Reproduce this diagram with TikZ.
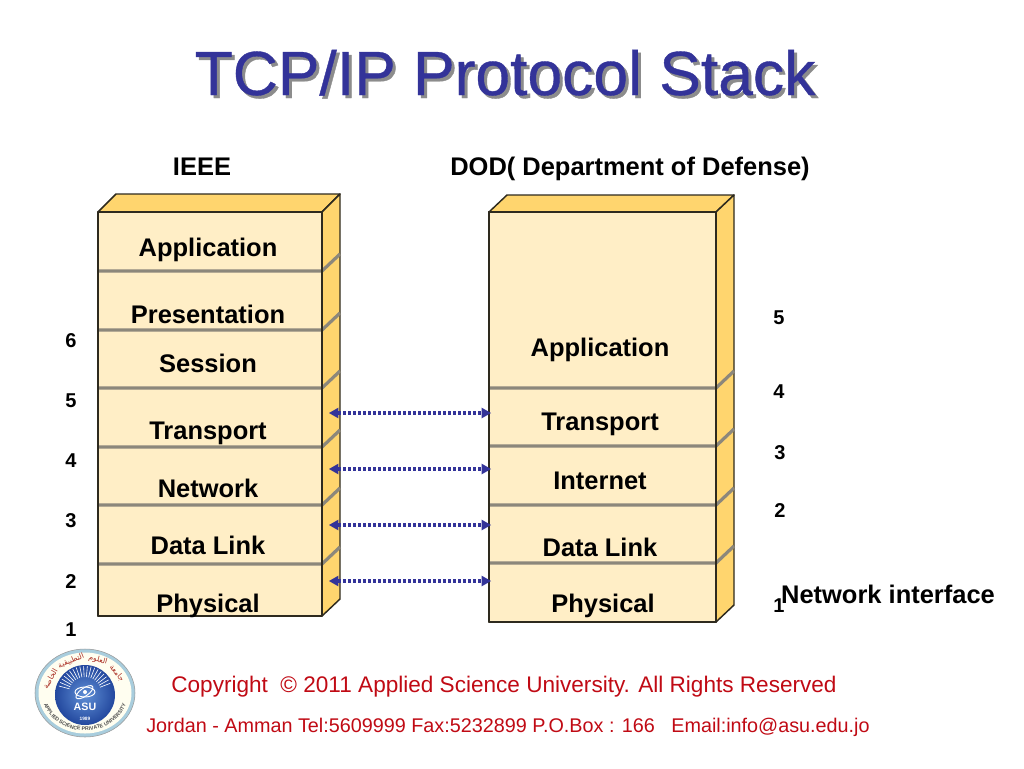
\documentclass[tikz,border=0pt]{standalone}
\usepackage{fontspec}
\setmainfont{Liberation Sans}
\newfontfamily\titlefont[FakeBold=0.6]{Liberation Sans}
\newfontfamily\arabicfont[Script=Arabic]{DejaVu Sans}
\TeXXeTstate=1
\usetikzlibrary{arrows.meta,decorations.text}
\definecolor{frontc}{HTML}{FFEEC6}
\definecolor{sidec}{HTML}{FFD56E}
\definecolor{edgec}{HTML}{2E2A1E}
\definecolor{layerc}{HTML}{8C877B}
\definecolor{linkc}{HTML}{333399}
\definecolor{titlec}{HTML}{333399}
\definecolor{redc}{HTML}{C00A14}
\definecolor{logoband}{HTML}{A8CDDD}
\definecolor{logoblue}{HTML}{23489E}
\definecolor{logomid}{HTML}{5F8FD6}
\definecolor{logored}{HTML}{A82A20}
\tikzset{
  x=0.75pt,y=-0.75pt,
  stackface/.style={fill=frontc,draw=edgec,line width=1.1pt,line join=round},
  stackside/.style={fill=sidec,draw=edgec,line width=1.1pt,line join=round},
  layerline/.style={draw=layerc,line width=2.4pt},
  lab/.style={anchor=base,inner sep=0pt,font=\fontsize{19.1}{22}\selectfont\bfseries,text=black},
  num/.style={anchor=base,inner sep=0pt,font=\fontsize{15}{18}\selectfont\bfseries,text=black},
  foot/.style={anchor=base,inner sep=0pt,text=redc},
  titletext/.style={anchor=base,inner sep=0pt,font=\fontsize{46.8}{52}\titlefont},
  linkarrow/.style={draw=linkc,line width=2.4pt,dash pattern=on 2.25pt off 1.5pt,
    {Triangle[length=7pt,width=8pt,fill=linkc,line width=0pt]}-{Triangle[length=7pt,width=8pt,fill=linkc,line width=0pt]}},
  tinyar/.style={inner sep=0pt,font=\fontsize{5.6}{6}\arabicfont,text=logored},
}
\begin{document}
\begin{tikzpicture}
\useasboundingbox (0,0) rectangle (1024,768);
% title
\node[titletext,text=black!45] (titleshadow) at (508,98) {TCP/IP Protocol Stack};
\node[titletext,text=titlec] (title) at (505,95) {TCP/IP Protocol Stack};
% headers
\node[lab] (ieee) at (202,175) {IEEE};
\node[lab] (dod) at (630,175) {DOD( Department of Defense)};
% left stack
\fill[stackface] (98,212) rectangle (322,616);
\draw[stackside] (98,212) -- (116,194) -- (340,194) -- (322,212) -- cycle;
\draw[stackside] (322,212) -- (340,194) -- (340,599) -- (322,616) -- cycle;
\foreach \yy in {271,330,388,447,505,564}{
  \draw[layerline] (98,\yy) -- (322,\yy) -- (340,\yy-17);
}
\draw[edgec,line width=2.2pt] (322,212) -- (322,616);
\draw[stackface,fill=none] (98,212) -- (98,616) -- (322,616);
\draw[stackface,fill=none] (98,212) -- (322,212);
% right stack
\fill[stackface] (489,212) rectangle (716,622);
\draw[stackside] (489,212) -- (507,195) -- (734,195) -- (716,212) -- cycle;
\draw[stackside] (716,212) -- (734,195) -- (734,605) -- (716,622) -- cycle;
\foreach \yy in {388,446,505,563}{
  \draw[layerline] (489,\yy) -- (716,\yy) -- (734,\yy-17);
}
\draw[stackface,fill=none] (716,212) -- (716,622) -- (489,622) -- (489,212) -- (716,212);
% left labels
\node[lab] (lApp) at (208,256) {Application};
\node[lab] (lPre) at (208,323) {Presentation};
\node[lab] (lSes) at (208,372) {Session};
\node[lab] (lTra) at (208,439) {Transport};
\node[lab] (lNet) at (208,497) {Network};
\node[lab] (lDat) at (208,554) {Data Link};
\node[lab] (lPhy) at (208,612) {Physical};
% right labels
\node[lab] (rApp) at (600,356) {Application};
\node[lab] (rTra) at (600,430) {Transport};
\node[lab] (rInt) at (600,489) {Internet};
\node[lab] (rDat) at (600,556) {Data Link};
\node[lab] (rPhy) at (603,612) {Physical};
% numbers
\node[num] (n6) at (71,347) {6};
\node[num] (n5) at (71,407) {5};
\node[num] (n4) at (71,467) {4};
\node[num] (n3) at (71,527) {3};
\node[num] (n2) at (71,588) {2};
\node[num] (n1) at (71,636) {1};
\node[num] (m5) at (779,324) {5};
\node[num] (m4) at (779,398) {4};
\node[num] (m3) at (780,459) {3};
\node[num] (m2) at (780,517) {2};
\node[num] (m1) at (779,612) {1};
\node[lab] (netif) at (888,603) {Network interface};
% links
\coordinate (a1) at (329,413); \coordinate (b1) at (491,413);
\coordinate (a2) at (329,469); \coordinate (b2) at (491,469);
\coordinate (a3) at (329,525); \coordinate (b3) at (491,525);
\coordinate (a4) at (329,581); \coordinate (b4) at (491,581);
\draw[linkarrow] (a1) -- (b1);
\draw[linkarrow] (a2) -- (b2);
\draw[linkarrow] (a3) -- (b3);
\draw[linkarrow] (a4) -- (b4);
% footer
\node[foot,font=\fontsize{16.93}{20}\selectfont] (copy) at (504,692) {Copyright \ © 2011 Applied Science University. All Rights Reserved};
\node[foot,font=\fontsize{14.84}{17}\selectfont] (addr) at (508,732) {Jordan - Amman Tel:5609999 Fax:5232899 P.O.Box : 166 \ \ Email:info@asu.edu.jo};
% logo
\begin{scope}[shift={(85,693)}]
  \fill[draw=black!40,line width=.4pt,fill=logoband] (0,0) ellipse [x radius=50,y radius=44];
  \fill[white!94!yellow] (0,0) ellipse [x radius=46.5,y radius=40.5];
  \shade[inner color=logomid,outer color=logoblue] (0,2) circle [radius=30];
  \foreach \a in {195,203,...,345}{
    \draw[white,line width=.45pt] (\a:16) -- (\a:27);
  }
  \draw[white,line width=.7pt] (0,-1) ellipse [x radius=10,y radius=5];
  \draw[white,line width=.7pt,rotate=35] (0,-1) ellipse [x radius=10,y radius=4];
  \fill[white] (0,-1) circle [radius=2];
  \node[inner sep=0pt,text=white,font=\fontsize{8}{9}\selectfont\bfseries] (asu) at (0,14) {ASU};
  \node[inner sep=0pt,text=white,font=\fontsize{3.6}{4}\selectfont\bfseries] (year) at (0,26) {1989};
  \path[postaction={decorate},decoration={text along path,text align=center,
      text={|\fontsize{3.9}{5}\selectfont\bfseries\color{black!70}|APPLIED SCIENCE PRIVATE UNIVERSITY}}]
    (178:43 and 37.5) arc [start angle=178,end angle=2,x radius=43,y radius=37.5];
  \node[tinyar,rotate=-50] (ar1) at (32,-20) {\beginR جامعة\endR};
  \node[tinyar,rotate=-15] (ar2) at (13,-33) {\beginR العلوم\endR};
  \node[tinyar,rotate=22] (ar3) at (-14,-32) {\beginR التطبيقية\endR};
  \node[tinyar,rotate=60] (ar4) at (-35,-14) {\beginR الخاصة\endR};
\end{scope}
\end{tikzpicture}
\end{document}
